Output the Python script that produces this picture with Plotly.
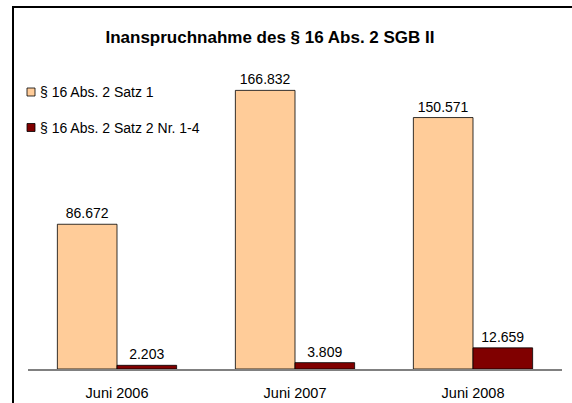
import plotly.graph_objects as go

categories = ["Juni 2006", "Juni 2007", "Juni 2008"]
satz1 = [86672, 166832, 150571]
satz2 = [2203, 3809, 12659]
series_names = ["§ 16 Abs. 2 Satz 1", "§ 16 Abs. 2 Satz 2 Nr. 1-4"]
series_colors = ["#FFCC99", "#800000"]
title_text = "Inanspruchnahme des § 16 Abs. 2 SGB II"

W, H = 572, 403
ML, MR, MT, MB = 28, 10, 35, 34
PW, PH = W - ML - MR, H - MT - MB


def px_x(px):
    return (px - ML) / PW


def px_y(py):
    return (H - py - MB) / PH


FONT = "Liberation Sans, Arial, sans-serif"

fig = go.Figure()
for name, vals, col in zip(series_names, [satz1, satz2], series_colors):
    fig.add_trace(go.Bar(
        x=categories, y=vals, name=name,
        marker=dict(color=col, line=dict(color="#000000", width=0.8)),
        texttemplate="%{y:,.0f}", textposition="outside",
        textfont=dict(size=14, color="#000000", family=FONT),
        cliponaxis=False, showlegend=False,
    ))

shapes = []
annotations = []
# manual legend
leg_y = [92, 127.5]
for i, (name, col) in enumerate(zip(series_names, series_colors)):
    cy = leg_y[i]
    shapes.append(dict(type="rect", xref="paper", yref="paper",
                       x0=px_x(27), x1=px_x(35), y0=px_y(cy + 4), y1=px_y(cy - 4),
                       fillcolor=col, line=dict(color="#000000", width=0.8)))
    annotations.append(dict(text=name, xref="paper", yref="paper",
                            x=px_x(38), y=px_y(cy), xanchor="left", yanchor="middle",
                            showarrow=False, font=dict(size=14, color="#000000", family=FONT)))

# chart frame (partially cropped)
shapes.append(dict(type="path", xref="paper", yref="paper",
                   path=f"M {px_x(13)},{px_y(430)} L {px_x(13)},{px_y(7)} L {px_x(620)},{px_y(7)}",
                   line=dict(color="#000000", width=2)))

fig.update_layout(
    width=W, height=H,
    margin=dict(l=ML, r=MR, t=MT, b=MB, autoexpand=False),
    paper_bgcolor="white", plot_bgcolor="white",
    font=dict(family=FONT, color="#000000"),
    separators=",.",
    barmode="group", bargap=0.33, bargroupgap=0,
    title=dict(text=f"<b>{title_text}</b>", xref="container", x=270 / W,
               xanchor="center", y=1 - 37.5 / H, yanchor="middle",
               font=dict(size=17, color="#000000", family=FONT)),
    xaxis=dict(showline=True, linecolor="#808080", linewidth=1.5, ticks="",
               showgrid=False, tickfont=dict(size=14.5, color="#000000"),
               ticklabelstandoff=10, automargin=False),
    yaxis=dict(range=[0, 200000], visible=False, showgrid=False, zeroline=False,
               automargin=False),
    shapes=shapes, annotations=annotations,
    showlegend=False,
)

fig.write_html("out.html", config={"displayModeBar": False},
               post_script="document.body.style.margin='0px';document.body.style.overflow='hidden';")
